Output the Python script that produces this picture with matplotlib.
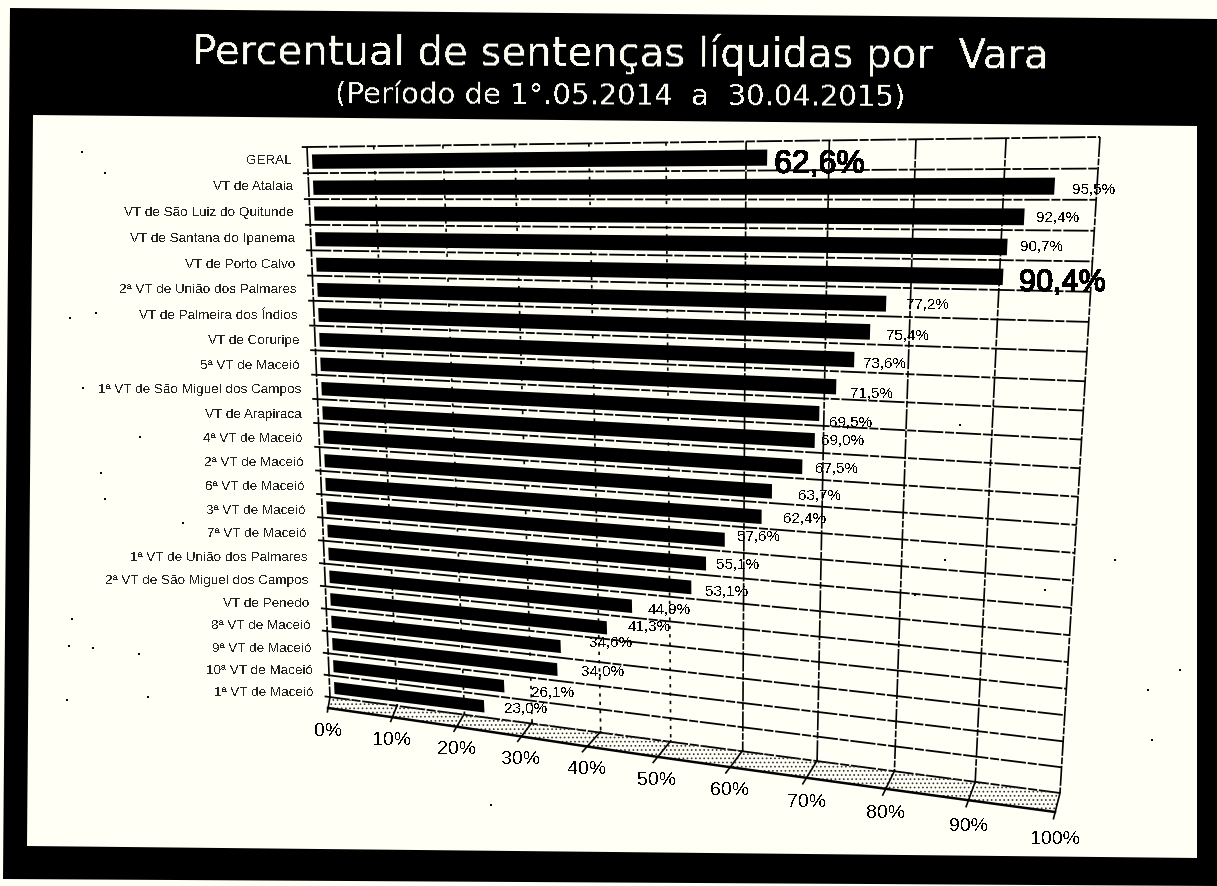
import numpy as np
import matplotlib
matplotlib.use('Agg')
import matplotlib.pyplot as plt
import matplotlib.patheffects as pe
from matplotlib.transforms import Transform

plt.rcParams['font.family'] = ['Liberation Sans', 'DejaVu Sans']
plt.rcParams['hatch.linewidth'] = 0.7
plt.rcParams['text.antialiased'] = False

varas = ['GERAL', 'VT de Atalaia', 'VT de São Luiz do Quitunde', 'VT de Santana do Ipanema',
         'VT de Porto Calvo', '2ª VT de União dos Palmares', 'VT de Palmeira dos Índios',
         'VT de Coruripe', '5ª VT de Maceió', '1ª VT de São Miguel dos Campos', 'VT de Arapiraca',
         '4ª VT de Maceió', '2ª VT de Maceió', '6ª VT de Maceió', '3ª VT de Maceió', '7ª VT de Maceió',
         '1ª VT de União dos Palmares', '2ª VT de São Miguel dos Campos', 'VT de Penedo',
         '8ª VT de Maceió', '9ª VT de Maceió', '10ª VT de Maceió', '1ª VT de Maceió']
percentual = [62.6, 95.5, 92.4, 90.7, 90.4, 77.2, 75.4, 73.6, 71.5, 69.5, 69.0, 67.5,
              63.7, 62.4, 57.6, 55.1, 53.1, 44.9, 41.3, 34.6, 34.0, 26.1, 23.0]
escala = [0, 10, 20, 30, 40, 50, 60, 70, 80, 90, 100]

# label nudges in pixels from the bar end, the scan is not regular
label_dx = [7, 18, 12, 13, 16, 20, 16, 9, 14, 10, 6, 13, 26, 22, 13, 10, 14, 16, 21, 29, 24, 27, 20]
label_dy = [7, 4, 1, 0, 6, 1, 4, 4, 7, 9, 0, 2, 5, 2, -3, 1, 5, 4, -1, -4, 2, 7, 3]
big_labels = {0: 23, 4: 22}

# scan dirt
sujeira_x = [82, 105, 70, 96, 83, 101, 140, 105, 183, 72, 93, 69, 139, 148, 67, 491, 1045, 1152, 1180, 960, 915, 945, 1148, 1115]
sujeira_y = [152, 173, 318, 313, 388, 473, 437, 499, 523, 619, 648, 646, 654, 697, 700, 805, 590, 740, 670, 425, 595, 560, 690, 560]

WALL_CORNERS = [(307, 147), (1100, 137), (1060, 793), (330, 697)]
PAPER = '#fffff6'
n_rows = len(varas)


class WallTransform(Transform):
    # maps (percent, row) on the tilted page to image pixels
    input_dims = 2
    output_dims = 2
    is_separable = False
    has_inverse = False

    def __init__(self, corners):
        super().__init__()
        src = [(0, 0), (100, 0), (100, n_rows), (0, n_rows)]
        a, b = [], []
        for (u, v), (x, y) in zip(src, corners):
            a.append([u, v, 1, 0, 0, 0, -u * x, -v * x])
            a.append([0, 0, 0, u, v, 1, -u * y, -v * y])
            b += [x, y]
        self.h = np.append(np.linalg.solve(np.array(a, float), np.array(b, float)), 1).reshape(3, 3)

    def transform_non_affine(self, values):
        values = np.asarray(values, float)
        pts = np.column_stack([values, np.ones(len(values))]) @ self.h.T
        xy = pts[:, :2] / pts[:, 2:]
        # the photocopy bows a little
        u = values[:, 0] / 100
        t = values[:, 1] / n_rows
        xy[:, 0] += 9 * 6.75 * u * (1 - u) ** 2 * np.clip(t, 0, 1) ** 1.5
        xy[:, 1] += 12 * t * (1 - t)
        return xy


wall = WallTransform(WALL_CORNERS)


def floor_front(value):
    # front edge of the floor, shifted from the foot of the wall
    back = wall.transform_non_affine(np.column_stack([value, np.full(len(value), n_rows)]))
    dx = np.interp(value, [0, 40, 60, 100], [-2, -14, -13, -5])
    dy = np.interp(value, [0, 50, 100], [11, 16, 19])
    return back + np.column_stack([dx, dy])


fig = plt.figure(figsize=(12.17, 8.86), dpi=100, facecolor=PAPER)
ax = fig.add_axes([0, 0, 1, 1])
ax.set_xlim(0, 1217)
ax.set_ylim(886, 0)
ax.set_autoscale_on(False)
ax.axis('off')

# black frame of the slide
ax.fill([10, 1217, 1217, 3], [8, 19, 886, 879], color='black', lw=0, zorder=0)
ax.fill([33, 1197, 1197, 27], [115, 126, 858, 846], color=PAPER, lw=0, zorder=0.5)
ax.text(620, 54, 'Percentual de sentenças líquidas por  Vara', color=PAPER, fontsize=29,
        family='DejaVu Sans', ha='center', va='center', rotation=-0.3)
ax.text(620, 96, '(Período de 1°.05.2014  a  30.04.2015)', color=PAPER, fontsize=21,
        family='DejaVu Sans', ha='center', va='center', rotation=-0.3)

plane = wall + ax.transData

# grid on the back wall
for r in range(n_rows + 1):
    ax.plot([-0.8, 100], [r, r], color='black', lw=1.3, ls=(0, (14, 1, 5, 1)), transform=plane, zorder=1)
for v in escala:
    style = (0, (2, 3)) if 0 < v < 60 else (0, (12, 1, 4, 1))
    ax.plot([v, v], [0, n_rows], color='black', lw=1.2, ls=style, transform=plane, zorder=1)

# floor band and axis ticks
vals = np.array(escala, float)
back = wall.transform_non_affine(np.column_stack([vals, np.full(len(vals), n_rows)]))
front = floor_front(vals)
ax.fill(np.r_[back[:, 0], front[::-1, 0]], np.r_[back[:, 1], front[::-1, 1]], facecolor='none',
        edgecolor='#333333', hatch='....', lw=0, zorder=1)
ax.plot(front[:, 0], front[:, 1], color='black', lw=1.8, zorder=2)
for b, f, pct in zip(back, front, escala):
    ax.plot([b[0], f[0] - 0.3 * (b[0] - f[0])], [b[1], f[1] + 0.35 * (f[1] - b[1])], color='black', lw=1.2, zorder=2)
    ax.text(f[0], f[1] + 23 + 4 * (pct / 100) ** 3, f'{pct}%', fontsize=14, ha='center', va='center', color='black')

# bars
rows = np.arange(n_rows) + 0.56
ax.barh(rows, np.array(percentual) - 0.7, left=0.7, height=0.55, color='black', transform=plane, zorder=3)

name_dy = np.linspace(-1, 6, n_rows)
for i, (nome, val) in enumerate(zip(varas, percentual)):
    ax.annotate(nome, xy=(0, rows[i]), xycoords=plane, xytext=(-16, -name_dy[i]), textcoords='offset pixels',
                fontsize=9.7, ha='right', va='center', color='#222222')
    size = big_labels.get(i, 11)
    effects = [pe.withStroke(linewidth=0.25, foreground='black')] if i in big_labels else None
    ax.annotate(f'{val:.1f}%'.replace('.', ','), xy=(val, rows[i]), xycoords=plane,
                xytext=(label_dx[i], -label_dy[i]), textcoords='offset pixels',
                fontsize=size, ha='left', va='center', color='black', zorder=4, path_effects=effects)

ax.scatter(sujeira_x, sujeira_y, s=3, color='black', marker='s', lw=0, zorder=2)

fig.savefig('out.png', dpi=100, facecolor=fig.get_facecolor())
